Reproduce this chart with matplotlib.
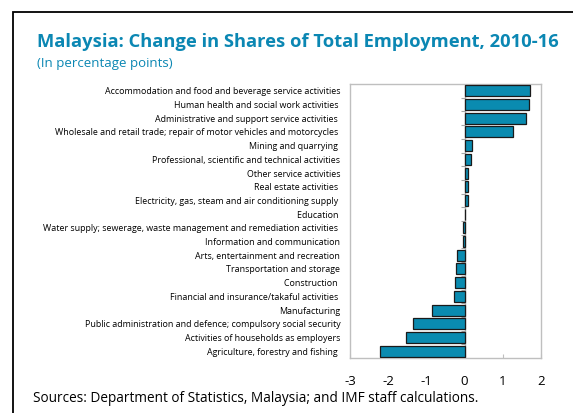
import numpy as np
import matplotlib
matplotlib.use('Agg')
import matplotlib.pyplot as plt
from matplotlib.patches import Rectangle

# Change in share of total employment, 2010-16 (percentage points), top to bottom
sectors = [
    'Accommodation and food and beverage service activities',
    'Human health and social work activities ',
    'Administrative and support service activities ',
    'Wholesale and retail trade; repair of motor vehicles and motorcycles ',
    'Mining and quarrying ',
    'Professional, scientific and technical activities',
    'Other service activities',
    'Real estate activities ',
    'Electricity, gas, steam and air conditioning supply ',
    'Education ',
    'Water supply; sewerage, waste management and remediation activities ',
    'Information and communication',
    'Arts, entertainment and recreation',
    'Transportation and storage',
    'Construction ',
    'Financial and insurance/takaful activities ',
    'Manufacturing',
    'Public administration and defence; compulsory social security',
    'Activities of households as employers',
    'Agriculture, forestry and fishing ',
]
changes = [1.70, 1.68, 1.61, 1.26, 0.19, 0.17, 0.10, 0.09, 0.08, 0.01,
           -0.03, -0.03, -0.20, -0.22, -0.26, -0.28, -0.85, -1.34, -1.53, -2.21]
x_ticks = [-3, -2, -1, 0, 1, 2]

BLUE = '#0b87b3'
BAR = '#0a8bb0'
GRID = '#bfbfbf'

plt.rcParams['font.family'] = ['Open Sans', 'DejaVu Sans']

fig = plt.figure(figsize = (5.73, 4.13), dpi = 100)
W, H = 573, 413

# Outer frame (runs off the right and bottom of the picture)
fig.patches.append(Rectangle((13 / W, -0.1), 1.2, 1 - 12 / H + 0.1, transform = fig.transFigure,
                             fill = False, edgecolor = 'black', lw = 1.3))

fig.text(37 / W, 1 - 42 / H, 'Malaysia: Change in Shares of Total Employment, 2010-16',
         color = BLUE, fontsize = 13.2, fontweight = 'bold', va = 'center', ha = 'left')
fig.text(37 / W, 1 - 63 / H, '(In percentage points)', color = BLUE, fontsize = 9.5,
         va = 'center', ha = 'left')

ax = fig.add_axes([350 / W, 1 - 358 / H, 191 / W, 274 / H])

n = len(sectors)
ypos = np.arange(n)[::-1]
ax.barh(ypos, changes, height = 0.8, color = BAR, edgecolor = '#1a1a1a', lw = 0.9, zorder = 3)

ax.set_ylim(-0.5, n - 0.5)
ax.set_xlim(x_ticks[0], x_ticks[-1])
ax.set_yticks(ypos)
ax.set_yticklabels(sectors, fontsize = 6.4)
ax.tick_params(axis = 'y', length = 0, pad = 7)
ax.set_xticks(x_ticks)
ax.set_xticklabels([str(t) for t in x_ticks], fontsize = 9.5)
ax.tick_params(axis = 'x', direction = 'in', length = 3, color = GRID, pad = 12)

for s in ax.spines.values():
    s.set_color(GRID)
    s.set_linewidth(1)

# zero line with small ticks between categories
ax.axvline(0, color = '#a6a6a6', lw = 1, zorder = 2)
ax.plot(np.zeros(n - 1), np.arange(n - 1) + 0.5, ls = 'none', marker = 0, ms = 3,
        color = '#a6a6a6', mew = 0.8, zorder = 2)

fig.text(33 / W, 1 - 399 / H, 'Sources: Department of Statistics, Malaysia; and IMF staff calculations.',
         fontsize = 9.8, va = 'center', ha = 'left')

fig.savefig('out.png', dpi = 100)
